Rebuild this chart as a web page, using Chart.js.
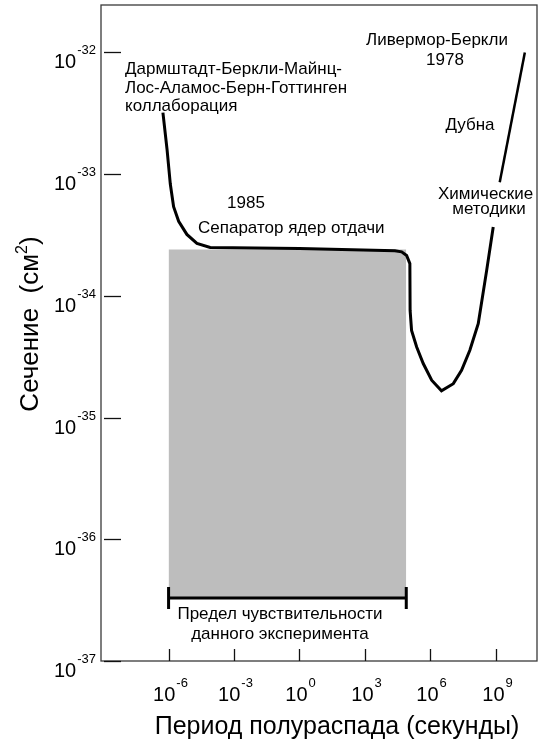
<!DOCTYPE html>
<html lang="ru">
<head>
<meta charset="UTF-8">
<title>Сечение и период полураспада</title>
<script src="https://cdn.jsdelivr.net/npm/chart.js@4.4.0/dist/chart.umd.min.js"></script>
<style>
  html, body { margin: 0; padding: 0; background: #fff; }
  canvas { display: block; }
</style>
</head>
<body>
<canvas id="chart" width="545" height="744"></canvas>
<script>
    // tick values: half-life (s) and cross section (cm^2)
    const halfLifeTicks = [1e-6, 1e-3, 1e0, 1e3, 1e6, 1e9];
    const sigmaTicks = [1e-37, 1e-36, 1e-35, 1e-34, 1e-33, 1e-32];

    // collaboration curve: steep start, separator plateau, dip and rise
    const curveHalfLife = [5.5e-7, 8.5e-7, 1.2e-6, 1.7e-6, 2.9e-6, 6.9e-6, 2.0e-5, 8.1e-5, 1, 2.4e4, 4.9e4, 8.3e4,
        1.17e5, 1.2e5, 1.4e5, 2.4e5, 4.8e5, 1.17e6, 3.3e6, 1.15e7, 2.75e7, 6.6e7, 1.6e8, 3.9e8, 7.8e8];
    const curveSigma = [3.2e-33, 1.6e-33, 8.3e-34, 5.4e-34, 4.1e-34, 3.2e-34, 2.7e-34, 2.5e-34, 2.45e-34, 2.35e-34, 2.3e-34, 2.15e-34,
        1.84e-34, 7.6e-35, 5.2e-35, 3.8e-35, 2.78e-35, 2.03e-35, 1.66e-35, 1.9e-35, 2.45e-35, 3.57e-35, 5.9e-35, 1.62e-34, 3.68e-34];

    // Livermore-Berkeley branch above the chemistry label
    const upperHalfLife = [1.55e9, 2.2e10];
    const upperSigma = [8.6e-34, 1e-32];

    // sensitivity limit of this experiment
    const limitHalfLife = [1e-6, 8e4];
    const limitTop = 2.4e-34;
    const limitBottom = 3.3e-37;
    const capSigma = [4.05e-37, 2.67e-37];

    const FONT = '"Liberation Sans", Arial, sans-serif';

    const toPoints = (xs, ys) => xs.map((x, i) => ({ x: x, y: ys[i] }));

    const bracket = [
        { x: limitHalfLife[0], y: capSigma[0] }, { x: limitHalfLife[0], y: capSigma[1] },
        { x: limitHalfLife[0], y: limitBottom }, { x: limitHalfLife[1], y: limitBottom },
        { x: limitHalfLife[1], y: capSigma[0] }, { x: limitHalfLife[1], y: capSigma[1] }
    ];

    const labels = [
        { text: 'Дармштадт-Беркли-Майнц-', x: 125, y: 74, align: 'left' },
        { text: 'Лос-Аламос-Берн-Готтинген', x: 125, y: 93, align: 'left' },
        { text: 'коллаборация', x: 125, y: 111, align: 'left' },
        { text: 'Ливермор-Беркли', x: 437, y: 45, align: 'center' },
        { text: '1978', x: 445, y: 65, align: 'center' },
        { text: 'Дубна', x: 470, y: 130, align: 'center' },
        { text: 'Химические', x: 438, y: 199, align: 'left' },
        { text: 'методики', x: 489, y: 214, align: 'center' },
        { text: '1985', x: 246, y: 208, align: 'center' },
        { text: 'Сепаратор ядер отдачи', x: 198, y: 233, align: 'left' },
        { text: 'Предел чувствительности', x: 280, y: 619, align: 'center' },
        { text: 'данного эксперимента', x: 280, y: 639, align: 'center' }
    ];

    function powerLabel(ctx, value, x, y, align) {
        const exp = String(Math.round(Math.log10(value)));
        ctx.font = '20px ' + FONT;
        const w1 = ctx.measureText('10').width;
        ctx.font = '13px ' + FONT;
        const w2 = ctx.measureText(exp).width;
        const total = w1 + 1 + w2;
        const start = align === 'right' ? x - total : x - total / 2;
        ctx.textAlign = 'left';
        ctx.font = '20px ' + FONT;
        ctx.fillText('10', start, y);
        ctx.font = '13px ' + FONT;
        ctx.fillText(exp, start + w1 + 1, y - 14);
    }

    // frame, inward ticks, tick labels, titles and notes
    const decorPlugin = {
        id: 'decor',
        afterDraw(chart) {
            const ctx = chart.ctx;
            const a = chart.chartArea;
            const xs = chart.scales.x;
            const ys = chart.scales.y;
            ctx.save();
            ctx.strokeStyle = '#3a3a3a';
            ctx.lineWidth = 1.3;
            ctx.strokeRect(a.left, a.top, a.right - a.left, a.bottom - a.top);

            ctx.strokeStyle = '#111';
            ctx.lineWidth = 1.3;
            ctx.fillStyle = '#000';
            ctx.textBaseline = 'alphabetic';
            sigmaTicks.forEach(v => {
                const py = Math.round(ys.getPixelForValue(v)) + 0.5;
                ctx.beginPath();
                ctx.moveTo(a.left + 3, py);
                ctx.lineTo(a.left + 20, py);
                ctx.stroke();
                powerLabel(ctx, v, 96, py + 15, 'right');
            });
            halfLifeTicks.forEach(v => {
                const px = Math.round(xs.getPixelForValue(v)) + 0.5;
                ctx.beginPath();
                ctx.moveTo(px, a.bottom);
                ctx.lineTo(px, a.bottom - 12);
                ctx.stroke();
                powerLabel(ctx, v, px + 1, 701, 'center');
            });

            ctx.font = '17px ' + FONT;
            labels.forEach(l => {
                ctx.textAlign = l.align;
                ctx.fillText(l.text, l.x, l.y);
            });

            // axis titles
            ctx.font = '25px ' + FONT;
            ctx.textAlign = 'center';
            ctx.fillText('Период полураспада (секунды)', 337, 734);

            ctx.save();
            ctx.translate(38, 324);
            ctx.rotate(-Math.PI / 2);
            const main = 'Сечение  (см';
            ctx.font = '26px ' + FONT;
            const wMain = ctx.measureText(main).width;
            const wClose = ctx.measureText(')').width;
            ctx.font = '16px ' + FONT;
            const wSup = ctx.measureText('2').width;
            let cx = -(wMain + wSup + wClose) / 2;
            ctx.textAlign = 'left';
            ctx.font = '26px ' + FONT;
            ctx.fillText(main, cx, 0);
            ctx.font = '16px ' + FONT;
            ctx.fillText('2', cx + wMain, -11);
            ctx.font = '26px ' + FONT;
            ctx.fillText(')', cx + wMain + wSup, 0);
            ctx.restore();

            ctx.restore();
        }
    };

    new Chart(document.getElementById('chart'), {
        type: 'scatter',
        data: {
            datasets: [
                {
                    label: 'Коллаборация',
                    data: toPoints(curveHalfLife, curveSigma),
                    showLine: true,
                    borderColor: '#000',
                    borderWidth: 3,
                    pointRadius: 0,
                    tension: 0,
                    order: 0
                },
                {
                    label: 'Ливермор-Беркли',
                    data: toPoints(upperHalfLife, upperSigma),
                    showLine: true,
                    borderColor: '#000',
                    borderWidth: 2.5,
                    pointRadius: 0,
                    order: 0
                },
                {
                    label: 'Предел',
                    data: bracket,
                    showLine: true,
                    borderColor: '#000',
                    borderWidth: 3,
                    pointRadius: 0,
                    order: 1
                },
                {
                    label: 'Область',
                    data: toPoints(limitHalfLife, [limitTop, limitTop]),
                    showLine: true,
                    borderWidth: 0,
                    borderColor: 'rgba(0,0,0,0)',
                    backgroundColor: '#bdbdbd',
                    fill: { value: limitBottom },
                    pointRadius: 0,
                    order: 2
                }
            ]
        },
        options: {
            responsive: false,
            animation: false,
            layout: { padding: { left: 101, top: 5, right: 8, bottom: 83 } },
            plugins: {
                legend: { display: false },
                tooltip: { enabled: false }
            },
            scales: {
                x: { type: 'logarithmic', display: false, min: Math.pow(10, -9.1), max: Math.pow(10, 10.9) },
                y: { type: 'logarithmic', display: false, min: 1e-37, max: Math.pow(10, -31.61) }
            }
        },
        plugins: [decorPlugin]
    });
</script>
</body>
</html>
